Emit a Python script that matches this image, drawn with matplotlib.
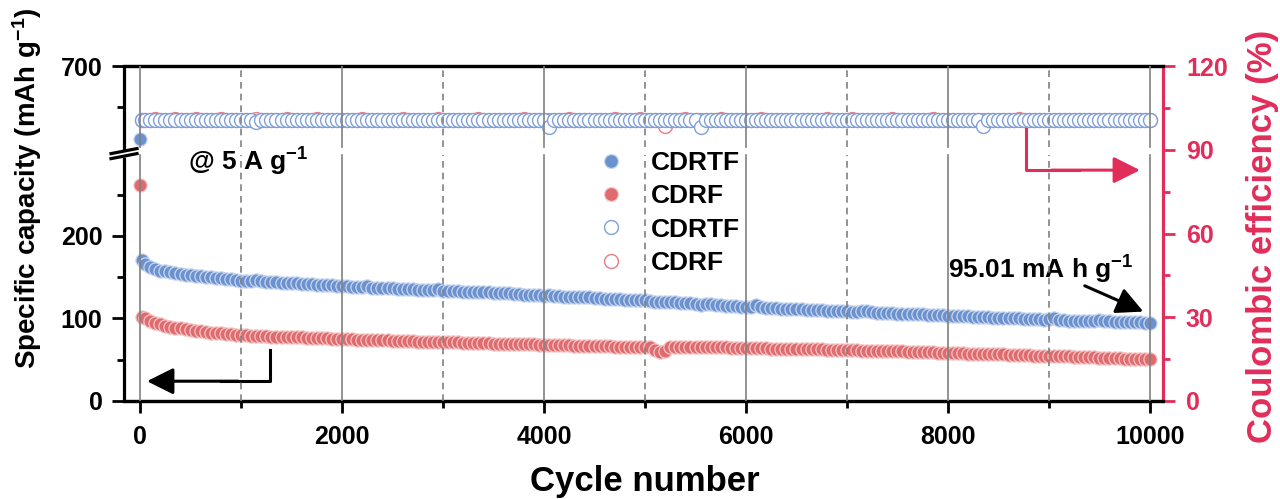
import matplotlib
matplotlib.use("Agg")
import matplotlib.pyplot as plt
import numpy as np
from matplotlib.lines import Line2D

plt.rcParams.update({
    "font.family": ["Liberation Sans", "DejaVu Sans"],
    "font.weight": "bold",
    "axes.labelweight": "bold",
    "mathtext.fontset": "custom",
    "mathtext.rm": "Liberation Sans:bold",
    "mathtext.bf": "Liberation Sans:bold",
    "mathtext.default": "bf",
})

# ---------------------------------------------------------------------------
# data (capacity in mAh/g, CE in %), one point / 50 cycles
# ---------------------------------------------------------------------------
CAP_CYCLES = [1, 20] + list(range(50, 10001, 50))
CE_CYCLES = CAP_CYCLES[1:]

CAP_CDRTF = [612, 171,
             166, 163, 160, 158, 157, 156, 155, 154, 153, 152.5,
             152, 151, 150.5, 150, 149.5, 149, 148, 147.5, 147, 146,
             145.5, 145.5, 147, 145.5, 144.5, 144.5, 144, 143.5, 143, 143,
             142.5, 142, 142, 141.5, 141, 141, 140.5, 140, 139.5, 139,
             139, 138.5, 138.5, 138, 139, 137.5, 137, 137, 136.5, 136.5,
             136, 136, 135.5, 135.5, 135, 135, 134.5, 134, 135.5, 133.5,
             133.5, 133, 133, 132.5, 132.5, 132, 132, 131.5, 131.5, 131,
             131, 130.5, 130.5, 130, 129.5, 129, 128.5, 128, 128, 127.5,
             128.5, 127, 127, 126.5, 126.5, 126, 126, 125.5, 125.5, 125,
             124.5, 124, 124, 123.5, 123.5, 123, 122.5, 122.5, 122, 122,
             121.5, 120.5, 120.5, 120, 120, 119.5, 119, 118.5, 118.5, 118,
             116, 117, 117, 116.5, 116, 115.5, 115.5, 115, 114.5, 114,
             114, 116, 114, 113, 113, 112.5, 112, 112, 111.5, 111,
             111, 110.5, 110.5, 110, 110, 109.5, 109.5, 109, 109, 108.5,
             108, 108, 108.5, 109.5, 107.5, 107, 107, 106.5, 106.5, 106,
             106, 105.5, 105.5, 105, 105, 104.5, 104.5, 104, 104, 103.5,
             103, 103, 102.5, 102.5, 102, 102, 101.5, 101.5, 101, 101,
             100.5, 100.5, 100, 100, 99.5, 99.5, 99, 99, 98.5, 99.5,
             100.5, 98, 98, 97.5, 97.5, 97, 97, 97, 96.5, 98,
             97, 96.5, 96, 96, 96, 95.5, 95.5, 95.5, 95, 95.01]

CAP_CDRF = [262, 102,
            100, 97.5, 95, 93, 91.5, 90, 89, 88, 87, 86,
            85, 84.5, 83.5, 83, 82.5, 82, 81.5, 81, 80, 79.5,
            79.5, 79, 79, 78.5, 78.5, 78, 78, 77.5, 77.5, 77,
            77, 77, 76.5, 76.5, 76, 76, 76, 75.5, 75.5, 75,
            75, 75, 74.5, 74.5, 74, 74, 74, 73.5, 73.5, 73,
            73, 73, 72.5, 72.5, 72, 72, 72, 71.5, 71.5, 71.5,
            71, 71, 71, 70.5, 70.5, 70.5, 70, 70, 70, 69.5,
            69.5, 69.5, 69, 69, 69, 68.5, 68.5, 68.5, 68, 68,
            68, 68, 67.5, 67.5, 67.5, 67, 67, 67, 67, 66.5,
            66.5, 66.5, 66.5, 66, 66, 66, 66, 65.5, 65.5, 65.5,
            65, 62, 59.5, 61, 65, 66, 66, 66, 65.5, 65.5,
            65.5, 65.5, 65, 65, 65, 65, 64.5, 64.5, 64.5, 64.5,
            64, 64, 64, 64, 63.5, 63.5, 63.5, 63.5, 63, 63,
            63, 63, 62.5, 62.5, 62.5, 62, 62, 62, 62, 61.5,
            61.5, 61.5, 61, 61, 61, 60.5, 60.5, 60.5, 60, 60,
            60, 59.5, 59.5, 59.5, 59, 59, 59, 58.5, 58.5, 58.5,
            58, 58, 58, 57.5, 57.5, 57.5, 57, 57, 56.5, 56.5,
            56.5, 56, 56, 55.5, 55.5, 55.5, 55, 55, 55, 54.5,
            54.5, 54, 54, 54, 53.5, 53.5, 53, 53, 53, 52.5,
            52.5, 52, 52, 52, 51.5, 51.5, 51.5, 51, 51, 51]

CE_CDRTF = [100.6,
            100.6, 100.6, 100.5, 100.6, 100.6, 100.6, 100.5, 100.6, 100.6, 100.6,
            100.6, 100.5, 100.6, 100.6, 100.6, 100.6, 100.5, 100.6, 100.6, 100.6,
            100.6, 100.6, 99.9, 100.6, 100.6, 100.5, 100.6, 100.6, 100.6, 100.6,
            100.5, 100.6, 100.6, 100.6, 100.6, 100.5, 100.6, 100.6, 100.6, 100.6,
            100.6, 100.5, 100.6, 100.6, 100.6, 100.6, 100.5, 100.6, 100.6, 100.6,
            100.6, 100.6, 100.5, 100.6, 100.6, 100.6, 100.6, 100.5, 100.6, 100.6,
            100.6, 100.6, 100.6, 100.5, 100.6, 100.6, 100.6, 100.6, 100.5, 100.6,
            100.6, 100.6, 100.6, 100.5, 100.6, 100.6, 100.6, 100.6, 100.5, 100.6,
            98.2, 100.6, 100.6, 100.6, 100.5, 100.6, 100.6, 100.6, 100.6, 100.5,
            100.6, 100.6, 100.6, 100.6, 100.5, 100.6, 100.6, 100.6, 100.6, 100.5,
            100.6, 100.6, 100.6, 100.5, 100.6, 100.6, 100.6, 100.6, 100.6, 100.6,
            98.2, 100.6, 100.5, 100.6, 100.6, 100.6, 100.6, 100.5, 100.6, 100.6,
            100.6, 100.6, 100.5, 100.6, 100.6, 100.6, 100.6, 100.5, 100.6, 100.6,
            100.6, 100.6, 100.6, 100.5, 100.6, 100.6, 100.6, 100.6, 100.5, 100.6,
            100.6, 100.5, 100.6, 100.6, 100.6, 100.6, 100.5, 100.6, 100.6, 100.6,
            100.6, 100.6, 100.5, 100.6, 100.6, 100.6, 100.6, 100.5, 100.6, 100.6,
            100.6, 100.6, 100.6, 100.5, 100.6, 100.6, 98.4, 100.6, 100.5, 100.6,
            100.6, 100.6, 100.6, 100.5, 100.6, 100.6, 100.6, 100.6, 100.5, 100.6,
            100.6, 100.5, 100.6, 100.6, 100.6, 100.6, 100.5, 100.6, 100.6, 100.6,
            100.6, 100.6, 100.5, 100.6, 100.6, 100.6, 100.6, 100.5, 100.6, 100.6]

CE_CDRF = [100.6,
           100.6, 100.6, 101.0, 100.6, 100.6, 100.6, 101.1, 100.6, 100.6, 100.6,
           101.0, 100.6, 100.6, 100.6, 100.6, 101.0, 100.6, 100.6, 100.6, 100.6,
           100.6, 100.6, 101.0, 100.6, 100.6, 100.6, 100.6, 100.6, 101.0, 100.6,
           100.6, 100.6, 100.6, 100.6, 101.0, 100.6, 100.6, 100.6, 100.6, 100.6,
           100.6, 100.6, 100.6, 101.0, 100.6, 100.6, 100.6, 100.6, 100.6, 100.6,
           100.6, 101.1, 100.6, 100.6, 100.6, 100.6, 100.6, 100.6, 101.0, 100.6,
           100.6, 100.6, 100.6, 100.6, 100.6, 100.6, 101.0, 100.6, 100.6, 100.6,
           100.6, 100.6, 100.6, 100.6, 100.6, 101.0, 100.6, 100.6, 100.6, 100.6,
           100.6, 100.6, 100.6, 100.6, 101.0, 100.6, 100.6, 100.6, 100.6, 100.6,
           100.6, 100.6, 100.6, 101.0, 100.6, 100.6, 100.6, 100.6, 101.0, 100.6,
           100.6, 100.6, 100.6, 98.4, 100.6, 100.6, 100.6, 101.0, 100.6, 100.6,
           100.6, 100.6, 100.6, 100.6, 101.0, 100.6, 100.6, 100.6, 100.6, 100.6,
           100.6, 100.6, 101.0, 100.6, 100.6, 100.6, 100.6, 100.6, 100.6, 100.6,
           100.6, 100.6, 100.6, 100.6, 100.6, 101.0, 100.6, 100.6, 100.6, 100.6,
           101.0, 100.6, 100.6, 100.6, 100.6, 100.6, 100.6, 100.6, 101.0, 100.6,
           100.6, 100.6, 100.6, 100.6, 100.6, 100.6, 101.0, 100.6, 100.6, 100.6,
           100.6, 100.6, 100.6, 100.6, 100.6, 100.6, 100.6, 100.6, 100.6, 100.6,
           100.6, 100.6, 100.6, 101.0, 100.6, 100.6, 100.6, 100.6, 100.6, 100.6,
           100.6, 100.6, 100.6, 100.6, 100.6, 100.6, 100.6, 100.6, 100.6, 100.6,
           100.6, 100.6, 100.6, 100.6, 100.6, 100.6, 100.6, 100.6, 100.6, 100.6]

LABELS = ["CDRTF", "CDRF", "CDRTF", "CDRF"]

BLUE, BLUE_EDGE = "#6b91cf", "#c9d7ef"
RED, RED_EDGE = "#df6b6e", "#f4c6c7"
BLUE_OPEN, RED_OPEN = "#7fa0d8", "#e47f86"
PINK = "#e12d5a"
GRID = "#808080"

# broken left axis: 300..600 squeezed into a tiny gap
LOW_TOP, HIGH_BOT, GAP = 300.0, 600.0, 6.0


def _fwd(v):
    v = np.asarray(v, float)
    mid = LOW_TOP + (v - LOW_TOP) * GAP / (HIGH_BOT - LOW_TOP)
    return np.where(v <= LOW_TOP, v,
                    np.where(v >= HIGH_BOT, v - (HIGH_BOT - LOW_TOP) + GAP, mid))


def _inv(d):
    d = np.asarray(d, float)
    mid = LOW_TOP + (d - LOW_TOP) * (HIGH_BOT - LOW_TOP) / GAP
    return np.where(d <= LOW_TOP, d,
                    np.where(d >= LOW_TOP + GAP, d + (HIGH_BOT - LOW_TOP) - GAP, mid))


def _frac(v):
    return float(_fwd(v) / _fwd(700))


fig = plt.figure(figsize=(12.8, 4.99), dpi=100)
ax = fig.add_axes([124 / 1280, 98 / 499, 1039 / 1280, 335 / 499])
ax2 = ax.twinx()

ax.set_yscale("function", functions=(_fwd, _inv))
ax.set_xlim(-160, 10130)
ax.set_ylim(0, 700)
ax2.set_ylim(0, 120)

# capacity (filled, left axis)
ax.plot(CAP_CYCLES, CAP_CDRTF, ls="none", marker="o", ms=9.5,
        mfc=BLUE, mec=BLUE_EDGE, mew=0.9, zorder=3)
ax.plot(CAP_CYCLES, CAP_CDRF, ls="none", marker="o", ms=9.5,
        mfc=RED, mec=RED_EDGE, mew=0.9, zorder=3)

# coulombic efficiency (open, right axis)
ax2.plot(CE_CYCLES, CE_CDRF, ls="none", marker="o", ms=10,
         mfc="white", mec=RED_OPEN, mew=1.0, zorder=3)
ax2.plot(CE_CYCLES, CE_CDRTF, ls="none", marker="o", ms=10,
         mfc="white", mec=BLUE_OPEN, mew=1.0, zorder=3)

# vertical grid lines drawn on top, interrupted at the axis break
xt = ax2.get_xaxis_transform()
g_lo, g_hi = _frac(298), _frac(602)
for c in range(0, 10001, 1000):
    ls = "-" if c % 2000 == 0 else (0, (4, 3))
    for y0, y1 in [(0, g_lo), (g_hi, 1)]:
        ax2.plot([c, c], [y0, y1], transform=xt, color=GRID, lw=1.2, ls=ls, zorder=5)

# spines
for a in (ax, ax2):
    for s in a.spines.values():
        s.set_linewidth(2.3)
ax.spines["left"].set_visible(False)
ax2.spines["left"].set_visible(False)
ax.spines["right"].set_visible(False)
ax2.spines["right"].set_color(PINK)
ta = ax2.transAxes
ax2.plot([0, 0], [0, 0.727], transform=ta, color="black", lw=2.3, clip_on=False,
         solid_capstyle="butt", zorder=6)
ax2.plot([0, 0], [0.748, 1], transform=ta, color="black", lw=2.3, clip_on=False,
         solid_capstyle="butt", zorder=6)
for yc in (0.731, 0.746):
    ax2.plot([-0.0125, 0.0125], [yc - 0.0075, yc + 0.0075], transform=ta,
             color="black", lw=2.3, clip_on=False, zorder=7)

# ticks
ax.set_xticks(range(0, 10001, 2000))
ax.set_xticks(range(1000, 10000, 2000), minor=True)
ax.set_yticks([0, 100, 200, 700])
ax.set_yticks([50, 150, 250, 650], minor=True)
ax2.set_yticks(range(0, 121, 30))
ax2.set_yticks(range(15, 120, 30), minor=True)
ax.tick_params(axis="both", which="major", direction="out", length=8.5, width=2.0,
               labelsize=18, pad=7)
ax.tick_params(axis="both", which="minor", direction="out", length=5, width=2.0)
ax.tick_params(axis="x", pad=9)
ax.tick_params(axis="y", which="both", left=True, right=False)
ax2.tick_params(axis="y", which="major", direction="out", length=8.5, width=2.0,
                labelsize=18, pad=8, colors=PINK)
ax2.tick_params(axis="y", which="minor", direction="out", length=5, width=2.0,
                colors=PINK)

# labels
ax.set_xlabel("Cycle number", fontsize=25)
ax.xaxis.set_label_coords(0.501, -0.19)
ax.set_ylabel("Specific capacity (mAh g$^{-1}$)", fontsize=20)
ax.yaxis.set_label_coords(-0.077, 0.636)
ax2.set_ylabel("Coulombic efficiency (%)", fontsize=25, color=PINK, rotation=90)
ax2.yaxis.set_label_coords(1.08, 0.49)

# annotations
ax.text(475, 290, "@ 5 A g$^{-1}$", fontsize=19, ha="left", va="center")
ax.text(8000, 159, "95.01 mA h g$^{-1}$", fontsize=19, ha="left", va="center")
ax.annotate("", xy=(9960, 107), xytext=(9330, 141),
            arrowprops=dict(arrowstyle="-|>,head_length=0.9,head_width=0.45",
                            color="black", lw=2.2, mutation_scale=18))
ax.plot([1290, 1290, 800], [62, 24, 24], color="black", lw=2.2, zorder=6)
ax.annotate("", xy=(40, 24), xytext=(1000, 24),
            arrowprops=dict(arrowstyle="-|>,head_length=0.9,head_width=0.45",
                            color="black", lw=2.2, mutation_scale=18))
ax2.plot([8775, 8775, 9300], [97.4, 82.7, 82.7], color=PINK, lw=2.2, zorder=6)
ax2.annotate("", xy=(9930, 82.7), xytext=(9000, 82.7),
             arrowprops=dict(arrowstyle="-|>,head_length=0.9,head_width=0.45",
                             color=PINK, lw=2.2, mutation_scale=18))

# legend
handles = [
    Line2D([], [], ls="none", marker="o", ms=10, mfc=BLUE, mec=BLUE_EDGE, mew=0.9),
    Line2D([], [], ls="none", marker="o", ms=10, mfc=RED, mec=RED_EDGE, mew=0.9),
    Line2D([], [], ls="none", marker="o", ms=10, mfc="white", mec=BLUE_OPEN, mew=1.0),
    Line2D([], [], ls="none", marker="o", ms=10, mfc="white", mec=RED_OPEN, mew=1.0),
]
leg = ax2.legend(handles, LABELS, loc="upper left", frameon=False, fontsize=19,
                 bbox_to_anchor=(585 / 1280, (499 - 138) / 499),
                 bbox_transform=fig.transFigure, borderpad=0, handlelength=1.0,
                 handletextpad=1.0, labelspacing=0.35)
leg.set_zorder(8)

fig.savefig("out.png", dpi=100)
